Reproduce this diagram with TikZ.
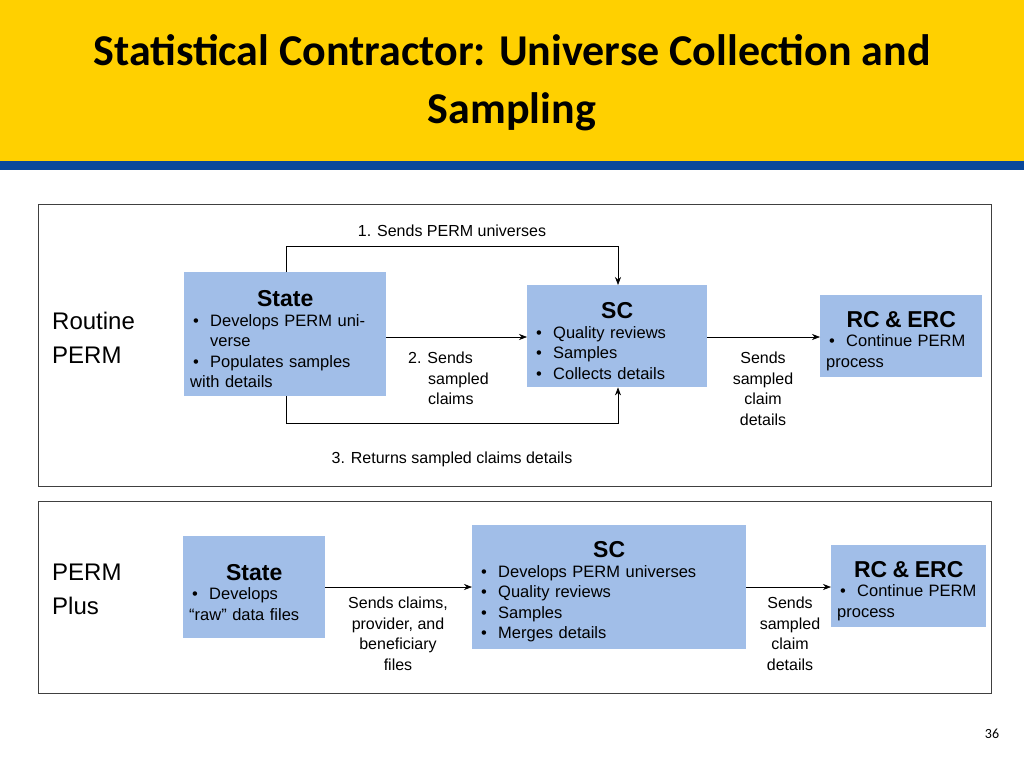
\documentclass[tikz,border=0pt]{standalone}
\usepackage{fontspec}
\setmainfont{Liberation Sans}
\newfontfamily\titlefont{Carlito}
\usetikzlibrary{arrows.meta}
\newcommand{\bitem}[1]{\par\hangindent=20pt\hangafter=1\noindent\makebox[20pt][l]{\hspace{3pt}\textbullet}#1}
\newcommand{\hd}[1]{\par{\centering\fontsize{23}{26}\selectfont\bfseries #1\par}}
\begin{document}
\begin{tikzpicture}[x=1pt,y=-1pt,
  box/.style={fill=boxblue,inner sep=6pt,font=\fontsize{16.5}{20.5}\selectfont,align=left,anchor=north west},
  frame/.style={draw=black!75,line width=0.8pt},
  arr/.style={-{Stealth[length=8pt,width=6pt]},line width=0.6pt},
  lbl/.style={font=\fontsize{16}{20.5}\selectfont,align=center,inner sep=0pt},
  side/.style={font=\fontsize{24}{34}\selectfont,align=left,anchor=north west,inner sep=0pt}]
\definecolor{boxblue}{RGB}{161,190,232}
\definecolor{hdyellow}{RGB}{255,208,0}
\definecolor{hdblue}{RGB}{10,72,155}
\useasboundingbox (0,0) rectangle (1024,768);
\fill[hdyellow] (0,0) rectangle (1024,161);
\fill[hdblue] (0,161) rectangle (1024,170);
\node[font=\titlefont\fontsize{44}{58}\selectfont\bfseries,align=center] (title) at (512,83) {Statistical Contractor: Universe Collection and\\Sampling};
% routine
\draw[frame] (38,204) rectangle (991,486);
\node[side] (r) at (52,312) {Routine\\PERM};
\node[box,text width=190pt,minimum height=124pt] (st) at (184,272) {\hd{State}\vspace{-1pt}\bitem{Develops PERM universe}\bitem{Populates samples with details}};
\node[box,text width=168pt,minimum height=102pt] (sc) at (527,285) {\hd{SC}\vspace{-1pt}\bitem{Quality reviews}\bitem{Samples}\bitem{Collects details}};
\node[box,text width=150pt,minimum height=82pt] (rc) at (820,295) {\hd{RC \& ERC}\vspace{-1pt}\bitem{Continue PERM process}};
\coordinate (a1) at (286,246); \coordinate (b1) at (618,246);
\draw[arr] (st.north -| a1) -- (a1) -- (b1) -- (sc.north -| b1);
\node[lbl] (l1) at (452,231) {1. Sends PERM universes};
\draw[arr] (st.east |- 0,337) -- (sc.west |- 0,337);
\node[lbl,align=left,anchor=north west] (l2) at (408,352) {2. Sends\\\hspace{20pt}sampled\\\hspace{20pt}claims};
\coordinate (a3) at (286,423); \coordinate (b3) at (618,423);
\draw[arr] (st.south -| a3) -- (a3) -- (b3) -- (sc.south -| b3);
\node[lbl] (l3) at (452,459) {3. Returns sampled claims details};
\draw[arr] (sc.east |- 0,337) -- (rc.west |- 0,337);
\node[lbl] (l4) at (763,389) {Sends\\sampled\\claim\\details};
% plus
\draw[frame] (38,501) rectangle (991,693);
\node[side] (p) at (52,564) {PERM\\Plus};
\node[box,text width=130pt,minimum height=102pt] (st2) at (183,536) {\hd{State}\vspace{-1pt}\bitem{Develops ``raw'' data files}};
\node[box,text width=262pt,minimum height=124pt] (sc2) at (472,525) {\hd{SC}\vspace{-1pt}\bitem{Develops PERM universes}\bitem{Quality reviews}\bitem{Samples}\bitem{Merges details}};
\node[box,text width=143pt,minimum height=82pt] (rc2) at (831,545) {\hd{RC \& ERC}\vspace{-1pt}\bitem{Continue PERM process}};
\draw[arr] (st2.east |- 0,587) -- (sc2.west |- 0,587);
\node[lbl] (l5) at (398,634) {Sends claims,\\provider, and\\beneficiary\\files};
\draw[arr] (sc2.east |- 0,587) -- (rc2.west |- 0,587);
\node[lbl] (l6) at (790,634) {Sends\\sampled\\claim\\details};
\node[font=\titlefont\fontsize{14}{16}\selectfont] (pg) at (992,734) {36};
\end{tikzpicture}
\end{document}
